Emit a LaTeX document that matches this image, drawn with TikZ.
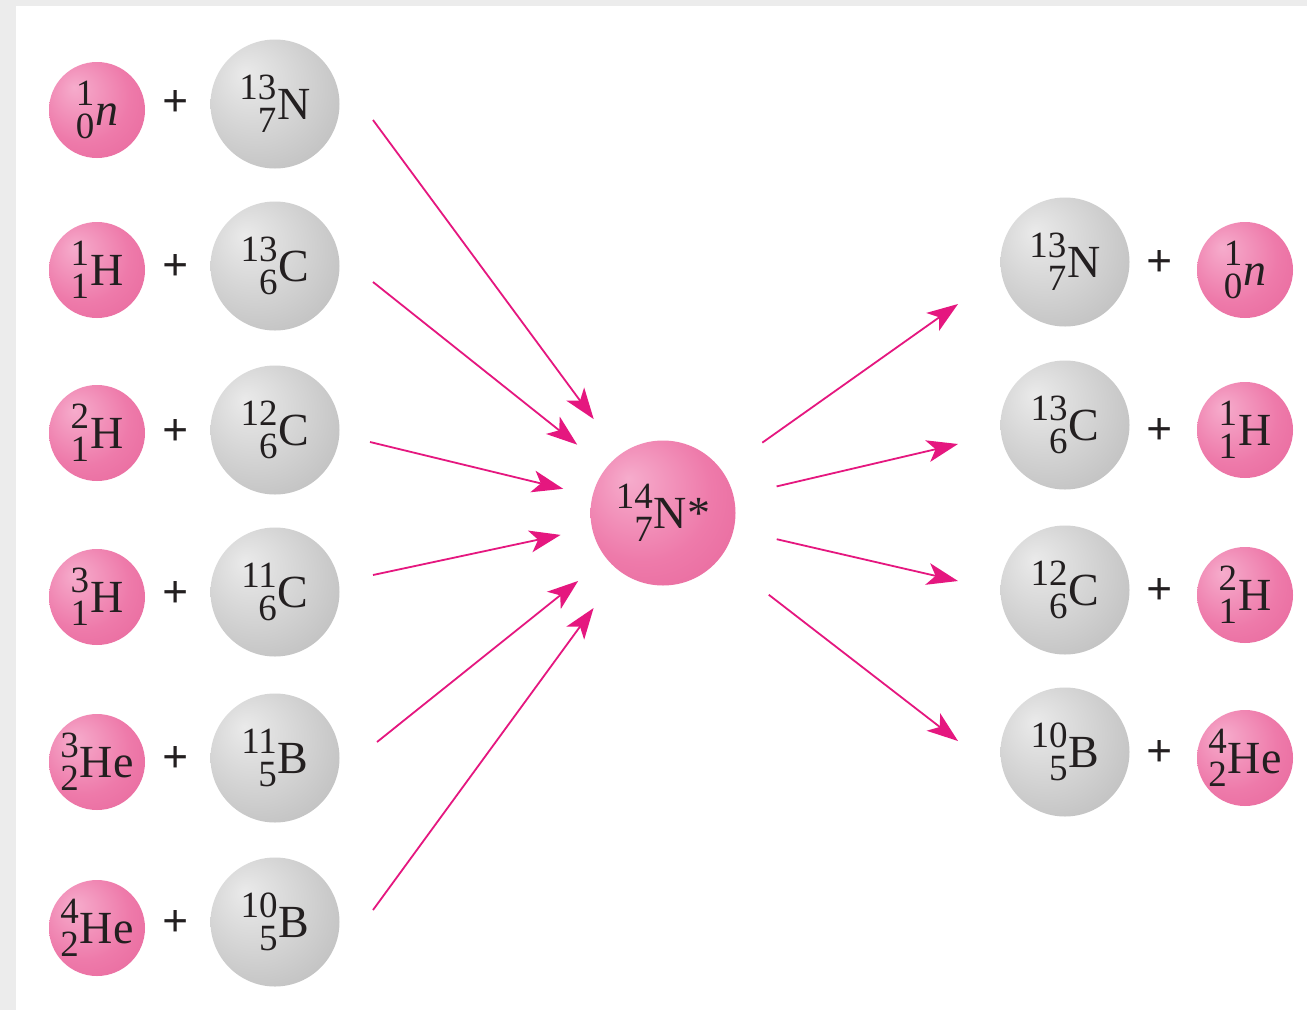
\documentclass[tikz,border=0pt]{standalone}
\usepackage{fontspec}
\setmainfont{Liberation Serif}
\usetikzlibrary{arrows.meta}

\definecolor{arrowpink}{RGB}{229,23,127}
\definecolor{pinkhi}{RGB}{246,172,204}
\definecolor{pinkmid}{RGB}{238,122,170}
\definecolor{pinkedge}{RGB}{230,98,152}
\definecolor{greyhi}{RGB}{234,234,234}
\definecolor{greymid}{RGB}{206,206,206}
\definecolor{greyedge}{RGB}{180,180,180}
\definecolor{inkcol}{RGB}{35,31,32}
\definecolor{margincol}{RGB}{236,236,236}

\pgfdeclareradialshading{pinkshade}{\pgfpoint{-12bp}{12bp}}{color(0bp)=(pinkhi); color(24bp)=(pinkmid); color(46bp)=(pinkedge); color(60bp)=(pinkedge)}
\pgfdeclareradialshading{greyshade}{\pgfpoint{-12bp}{12bp}}{color(0bp)=(greyhi); color(24bp)=(greymid); color(46bp)=(greyedge); color(60bp)=(greyedge)}

% isotope: mass number over atomic number, both flush right
\newcommand{\iso}[3]{%
  \setbox0\hbox{\fontsize{37}{37}\selectfont #1}%
  \setbox2\hbox{\fontsize{37}{37}\selectfont #2}%
  \ifdim\wd0>\wd2 \dimen0=\wd0 \else \dimen0=\wd2 \fi
  \hbox to\dimen0{\hss\raise20pt\box0}%
  \kern-\dimen0
  \hbox to\dimen0{\hss\lower13pt\box2}%
  \kern1pt#3}

\begin{document}
\begin{tikzpicture}[x=1pt, y=-1pt]
\tikzset{
    nuc/.style={circle, inner sep=0pt, text=inkcol, font=\fontsize{46}{50}\selectfont},
    pinknuc/.style={nuc, shade, shading=pinkshade, minimum size=96pt},
    greynuc/.style={nuc, shade, shading=greyshade, minimum size=129pt},
    plus/.style={inner sep=0pt, text=inkcol, font=\fontsize{46}{46}\selectfont\bfseries},
    arr/.style={draw=arrowpink, line width=1.8pt, -{Stealth[length=31pt, width=22pt, inset=8pt]}},
  }
% page and margin
\fill[margincol] (0,0) rectangle (1307,1010);
\fill[white] (16,6) rectangle (1307,1010);

% reactants
\node (p1) [pinknuc] at (97,110) {\iso{1}{0}{\textit{n}}};
\node (g1) [greynuc] at (275,104) {\iso{13}{7}{N}};
\node (plus1) [plus] at (176,104) {+};
\node (p2) [pinknuc] at (97,270) {\iso{1}{1}{H}};
\node (g2) [greynuc] at (275,266) {\iso{13}{6}{C}};
\node (plus2) [plus] at (176,268) {+};
\node (p3) [pinknuc] at (97,433) {\iso{2}{1}{H}};
\node (g3) [greynuc] at (275,430) {\iso{12}{6}{C}};
\node (plus3) [plus] at (176,432) {+};
\node (p4) [pinknuc] at (97,597) {\iso{3}{1}{H}};
\node (g4) [greynuc] at (275,592) {\iso{11}{6}{C}};
\node (plus4) [plus] at (176,594) {+};
\node (p5) [pinknuc] at (97,762) {\iso{3}{2}{He}};
\node (g5) [greynuc] at (275,758) {\iso{11}{5}{B}};
\node (plus5) [plus] at (176,759) {+};
\node (p6) [pinknuc] at (97,928) {\iso{4}{2}{He}};
\node (g6) [greynuc] at (275,922) {\iso{10}{5}{B}};
\node (plus6) [plus] at (176,923) {+};

% compound nucleus
\node (nstar) [pinknuc, minimum size=145pt] at (663,513) {\iso{14}{7}{N*}};

% products
\node (rg1) [greynuc] at (1065,262) {\iso{13}{7}{N}};
\node (rplus1) [plus] at (1160,264) {+};
\node (rp1) [pinknuc] at (1245,270) {\iso{1}{0}{\textit{n}}};
\node (rg2) [greynuc] at (1065,425) {\iso{13}{6}{C}};
\node (rplus2) [plus] at (1160,431) {+};
\node (rp2) [pinknuc] at (1245,430) {\iso{1}{1}{H}};
\node (rg3) [greynuc] at (1065,590) {\iso{12}{6}{C}};
\node (rplus3) [plus] at (1160,591) {+};
\node (rp3) [pinknuc] at (1245,595) {\iso{2}{1}{H}};
\node (rg4) [greynuc] at (1065,752) {\iso{10}{5}{B}};
\node (rplus4) [plus] at (1160,753) {+};
\node (rp4) [pinknuc] at (1245,758) {\iso{4}{2}{He}};

% arrow ends
\coordinate (in1) at (373,120);
\coordinate (in2) at (373,282);
\coordinate (in3) at (370,442);
\coordinate (in4) at (373,575);
\coordinate (in5) at (377,742);
\coordinate (in6) at (373,910);
\coordinate (out1) at (958,304);
\coordinate (out2) at (958,444);
\coordinate (out3) at (958,581);
\coordinate (out4) at (958,741);

\draw[arr, shorten >=44pt] (in1) -- (nstar);
\draw[arr, shorten >=37pt] (in2) -- (nstar);
\draw[arr, shorten >=30pt] (in3) -- (nstar);
\draw[arr, shorten >=32pt] (in4) -- (nstar);
\draw[arr, shorten >=36pt] (in5) -- (nstar);
\draw[arr, shorten >=45pt] (in6) -- (nstar);
\draw[arr, shorten <=49pt] (nstar) -- (out1);
\draw[arr, shorten <=44pt] (nstar) -- (out2);
\draw[arr, shorten <=44pt] (nstar) -- (out3);
\draw[arr, shorten <=61pt] (nstar) -- (out4);
\end{tikzpicture}
\end{document}
